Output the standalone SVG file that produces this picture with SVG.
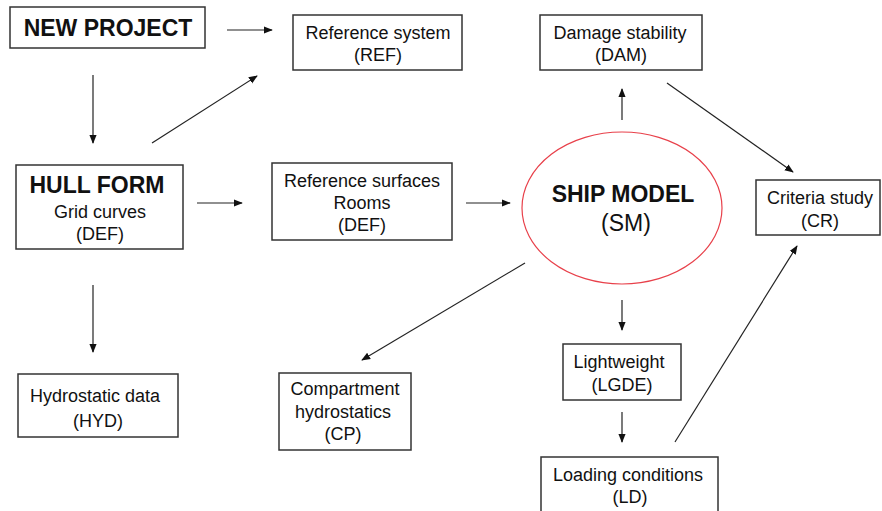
<svg xmlns="http://www.w3.org/2000/svg" width="882" height="511" viewBox="0 0 882 511">
<defs>
<marker id="ah" viewBox="0 0 10 10" refX="9" refY="5" markerWidth="9" markerHeight="9" markerUnits="userSpaceOnUse" orient="auto">
<path d="M0,1 L10,5 L0,9 z" fill="#111"/>
</marker>
<style>
.box{fill:#fff;stroke:#333;stroke-width:1.5}
.t{font-family:"Liberation Sans",Arial,sans-serif;font-size:18px;fill:#111;text-anchor:middle}
.b{font-family:"Liberation Sans",Arial,sans-serif;font-size:23px;font-weight:bold;fill:#111;text-anchor:middle}
.big{font-family:"Liberation Sans",Arial,sans-serif;font-size:23px;fill:#111;text-anchor:middle}
.c{stroke:#222;stroke-width:1.2;fill:none;marker-end:url(#ah)}
</style>
</defs>
<rect width="882" height="511" fill="#fff"/>
<g id="connectors">
<line class="c" x1="227" y1="30" x2="272" y2="30"/>
<line class="c" x1="93" y1="75" x2="93" y2="143"/>
<line class="c" x1="152" y1="143" x2="257" y2="76"/>
<line class="c" x1="197" y1="203" x2="242" y2="203"/>
<line class="c" x1="93" y1="285" x2="93" y2="352"/>
<line class="c" x1="466" y1="203" x2="510" y2="203"/>
<line class="c" x1="622" y1="120" x2="622" y2="89"/>
<line class="c" x1="667" y1="83" x2="793" y2="172"/>
<line class="c" x1="525" y1="263" x2="362" y2="360"/>
<line class="c" x1="622" y1="300" x2="622" y2="330"/>
<line class="c" x1="622" y1="412" x2="622" y2="442"/>
<line class="c" x1="675" y1="442" x2="797" y2="246"/>
</g>
<g id="new-project">
<rect class="box" x="10" y="7" width="195" height="41"/>
<text class="b" x="108" y="36">NEW PROJECT</text>
</g>
<g id="ref">
<rect class="box" x="293" y="15" width="169" height="55"/>
<text class="t" x="378" y="39">Reference system</text>
<text class="t" x="378" y="61">(REF)</text>
</g>
<g id="dam">
<rect class="box" x="540" y="15" width="162" height="55"/>
<text class="t" x="620" y="39">Damage stability</text>
<text class="t" x="621" y="61">(DAM)</text>
</g>
<g id="hull-form">
<rect class="box" x="16" y="165" width="167" height="84"/>
<text class="b" x="97" y="193">HULL FORM</text>
<text class="t" x="100" y="218">Grid curves</text>
<text class="t" x="100" y="240">(DEF)</text>
</g>
<g id="ref-surfaces">
<rect class="box" x="272" y="163" width="180" height="77"/>
<text class="t" x="362" y="187">Reference surfaces</text>
<text class="t" x="362" y="209">Rooms</text>
<text class="t" x="362" y="231">(DEF)</text>
</g>
<g id="ship-model">
<ellipse cx="622" cy="208" rx="100" ry="76" fill="#fff" stroke="#e8404a" stroke-width="1.2"/>
<text class="b" x="623" y="202">SHIP MODEL</text>
<text class="big" x="626" y="231">(SM)</text>
</g>
<g id="criteria">
<rect class="box" x="756" y="180" width="124" height="55"/>
<text class="t" x="820" y="204">Criteria study</text>
<text class="t" x="820" y="227">(CR)</text>
</g>
<g id="hyd">
<rect class="box" x="18" y="374" width="160" height="63"/>
<text class="t" x="95" y="402">Hydrostatic data</text>
<text class="t" x="98" y="427">(HYD)</text>
</g>
<g id="cp">
<rect class="box" x="279" y="373" width="132" height="77"/>
<text class="t" x="345" y="395">Compartment</text>
<text class="t" x="343" y="418">hydrostatics</text>
<text class="t" x="343" y="440">(CP)</text>
</g>
<g id="lgde">
<rect class="box" x="563" y="344" width="118" height="56" stroke="#555"/>
<text class="t" x="619" y="368">Lightweight</text>
<text class="t" x="622" y="391">(LGDE)</text>
</g>
<g id="ld">
<rect class="box" x="541" y="457" width="177" height="60" stroke="#777"/>
<text class="t" x="628" y="481">Loading conditions</text>
<text class="t" x="630" y="503">(LD)</text>
</g>
</svg>
